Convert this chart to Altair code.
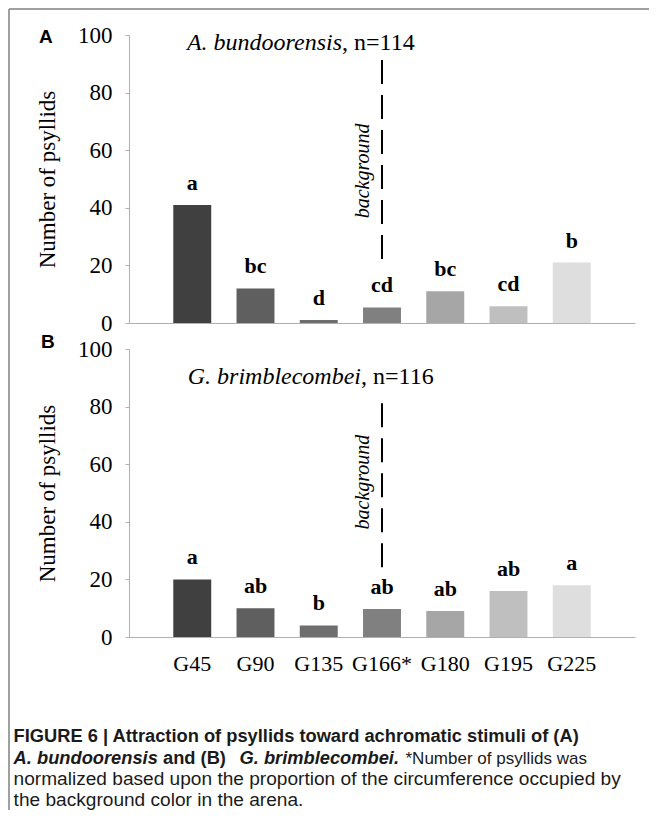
import altair as alt
import pandas as pd

# ---------------- data ----------------
CATEGORIES = ["G45", "G90", "G135", "G166*", "G180", "G195", "G225"]
COUNTS_A = [41, 12, 1, 5.4, 11, 5.8, 21]
COUNTS_B = [20, 10, 4, 9.7, 9, 16, 18]
LETTERS_A = ["a", "bc", "d", "cd", "bc", "cd", "b"]
LETTERS_B = ["a", "ab", "b", "ab", "ab", "ab", "a"]
Y_TICKS = [0, 20, 40, 60, 80, 100]
BG_LINE_A = [91.3, 19.4]
BG_LINE_B = [81.2, 22.0]
BG_LABEL_Y_A = [52.8]
BG_LABEL_Y_B = [53.8]
TITLE_A = ["A. bundoorensis", ", n=114"]
TITLE_B = ["G. brimblecombei", ", n=116"]
Y_TITLE = "Number of psyllids"
BG_LABEL = "background"
PANEL_LABELS = ["A", "B"]
CAPTION_1 = "FIGURE 6 | Attraction of psyllids toward achromatic stimuli of (A)"
CAPTION_2 = ["A. bundoorensis", "and (B)", "G. brimblecombei.", "*Number of psyllids was"]
CAPTION_3 = "normalized based upon the proportion of the circumference occupied by"
CAPTION_4 = "the background color in the arena."

# ---------------- styles ----------------
COLORS_A = ["#404040", "#5f5f5f", "#6e6e6e", "#808080", "#a6a6a6", "#bfbfbf", "#dedede"]
COLORS_B = ["#222222", "#5f5f5f", "#5a5a5a", "#7f7f7f", "#a6a6a6", "#bdbdbd", "#dedede"]
SERIF = "Liberation Serif"
SANS = "Liberation Sans"
GRAY = "#b0b0b0"
BORDER = "#808080"
W, H = 506, 288

one = pd.DataFrame({"k": [0]})


def panel(counts, letters, colors, line, bg_y, title, title_join, title_base,
          label, label_xy, show_x, border=False):
    df = pd.DataFrame({"stim": CATEGORIES, "n": counts, "sig": letters})
    xscale = alt.Scale(domain=CATEGORIES, paddingInner=0.4, paddingOuter=0.7)
    if show_x:
        xaxis = alt.Axis(labelAngle=0, labelFont=SERIF, labelFontSize=22, labelColor="black",
                         labelPadding=16, ticks=False, domainColor=GRAY, labelOverlap=False,
                         title=None)
    else:
        xaxis = alt.Axis(labels=False, ticks=False, domainColor=GRAY, title=None)
    x = alt.X("stim:N", sort=CATEGORIES, scale=xscale, axis=xaxis)
    yaxis = alt.Axis(values=Y_TICKS, grid=False, domainColor=GRAY, tickColor=GRAY, tickSize=4,
                     labelFont=SERIF, labelFontSize=23, labelColor="black", labelPadding=13,
                     titleFont=SERIF, titleFontSize=23, titleFontWeight="normal",
                     titleColor="black", titleAngle=270, titleX=-82, titleY=144,
                     titleAlign="center", titleBaseline="middle")
    y = alt.Y("n:Q", scale=alt.Scale(domain=[0, 100], nice=False), axis=yaxis, title=Y_TITLE)

    bars = alt.Chart(df).mark_bar().encode(
        x=x, y=y,
        color=alt.Color("stim:N", scale=alt.Scale(domain=CATEGORIES, range=colors), legend=None),
    )
    sig = alt.Chart(df).mark_text(dy=-15, baseline="alphabetic", font=SERIF, fontSize=22,
                                  fontWeight="bold", color="black").encode(x=x, y=y, text="sig:N")
    ldf = pd.DataFrame({"stim": ["G166*"], "n": [line[0]], "n2": [line[1]]})
    rule = alt.Chart(ldf).mark_rule(color="black", strokeWidth=2, strokeDash=[24, 11]).encode(
        x=x, y=y, y2="n2:Q")
    bdf = pd.DataFrame({"n": bg_y})
    bg = alt.Chart(bdf).mark_text(angle=270, align="center", baseline="alphabetic", font=SERIF,
                                  fontSize=20, fontStyle="italic", color="black").encode(
        x=alt.value(240), y=y, text=alt.value(BG_LABEL))
    t1 = alt.Chart(one).mark_text(align="right", baseline="alphabetic", font=SERIF, fontSize=24,
                                  fontStyle="italic", color="black").encode(
        x=alt.value(title_join), y=alt.value(title_base), text=alt.value(title[0]))
    t2 = alt.Chart(one).mark_text(align="left", baseline="alphabetic", font=SERIF, fontSize=24,
                                  color="black").encode(
        x=alt.value(title_join), y=alt.value(title_base), text=alt.value(title[1]))
    lab = alt.Chart(one).mark_text(align="left", baseline="alphabetic", font=SANS, fontSize=19,
                                   fontWeight="bold", color="black").encode(
        x=alt.value(label_xy[0]), y=alt.value(label_xy[1]), text=alt.value(label))
    layers = [bars, sig, rule, bg, t1, t2, lab]
    if border:
        left = alt.Chart(one).mark_rule(color=BORDER, strokeWidth=1.5).encode(
            x=alt.value(-120), y=alt.value(-26), y2=alt.value(775))
        top = alt.Chart(one).mark_rule(color=BORDER, strokeWidth=1.5).encode(
            x=alt.value(-120), x2=alt.value(520), y=alt.value(-26))
        layers += [left, top]
    return alt.layer(*layers).properties(width=W, height=H)


panel_a = panel(COUNTS_A, LETTERS_A, COLORS_A, BG_LINE_A, BG_LABEL_Y_A, TITLE_A, 213, 15,
                PANEL_LABELS[0], (-90, 8), False, border=True)
panel_b = panel(COUNTS_B, LETTERS_B, COLORS_B, BG_LINE_B, BG_LABEL_Y_B, TITLE_B, 232, 35,
                PANEL_LABELS[1], (-88, -1.5), True)


def ctext(txt, xpos, ypos, size, weight="normal", style="normal"):
    return alt.Chart(one).mark_text(align="left", baseline="alphabetic", font=SANS, fontSize=size,
                                    fontWeight=weight, fontStyle=style, color="#1a1a1a").encode(
        x=alt.value(xpos), y=alt.value(ypos), text=alt.value(txt))


caption = alt.layer(
    ctext(CAPTION_1, -115.4, 79, 18.3, weight="bold"),
    ctext(CAPTION_2[0], -115.4, 101, 18.3, weight="bold", style="italic"),
    ctext(CAPTION_2[1], 34, 101, 18.3, weight="bold"),
    ctext(CAPTION_2[2], 110.5, 101, 18.3, weight="bold", style="italic"),
    ctext(CAPTION_2[3], 276.5, 101, 17),
    ctext(CAPTION_3, -115.4, 122, 19.1),
    ctext(CAPTION_4, -115.4, 142.5, 19.1),
).properties(width=W, height=140)

chart = alt.vconcat(panel_a, panel_b, caption, spacing=26, bounds="flush").properties(
    padding=0, background="white").configure_view(stroke=None)

chart.save("out.html", embed_options={"renderer": "svg", "actions": False})
